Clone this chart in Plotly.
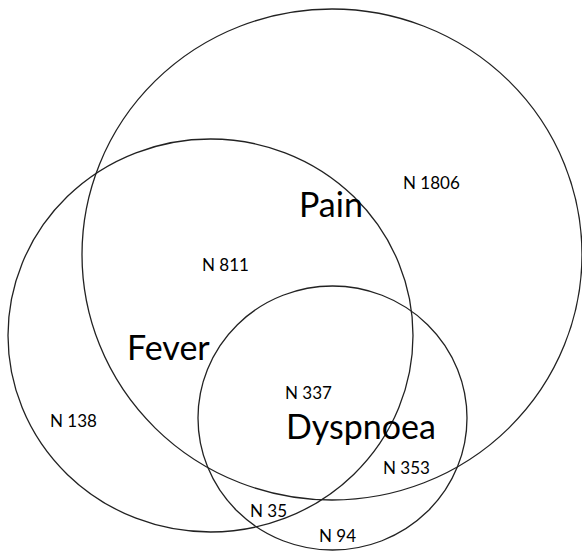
import plotly.graph_objects as go

# Data
set_names = ["Pain", "Fever", "Dyspnoea"]
region_names = ["Pain only", "Pain & Fever", "All three", "Fever only",
                "Pain & Dyspnoea", "Fever & Dyspnoea", "Dyspnoea only"]
region_counts = [1806, 811, 337, 138, 353, 35, 94]

# Layout geometry (pixel-like coordinates, y downward)
circle_bounds = {  # x0, x1, y0, y1
    "Pain": (82, 582, 9, 500),
    "Fever": (8, 413, 139, 532),
    "Dyspnoea": (198, 467, 286, 550),
}
set_label_pos = {"Pain": (331, 203), "Fever": (168, 346), "Dyspnoea": (361, 425)}
region_label_pos = [(431, 182), (225, 264), (308, 392), (73, 420),
                    (406, 467), (268, 510), (337, 535)]

W, H = 582, 555
fig = go.Figure()
fig.add_trace(go.Scatter(x=[0, W], y=[0, H], mode="markers",
                         marker=dict(opacity=0), hoverinfo="skip", showlegend=False))

for name in set_names:
    x0, x1, y0, y1 = circle_bounds[name]
    fig.add_shape(type="circle", xref="x", yref="y", x0=x0, x1=x1, y0=y0, y1=y1,
                  line=dict(color="#222222", width=1.3), fillcolor="rgba(0,0,0,0)")

for name in set_names:
    x, y = set_label_pos[name]
    fig.add_annotation(x=x, y=y, text=name, showarrow=False, xref="x", yref="y",
                       xanchor="center", yanchor="middle",
                       font=dict(family="Lato", size=34, color="#000000"))

for cnt, (x, y) in zip(region_counts, region_label_pos):
    fig.add_annotation(x=x, y=y, text=f"N {cnt}", showarrow=False, xref="x", yref="y",
                       xanchor="center", yanchor="middle",
                       font=dict(family="Lato", size=17, color="#000000"))

fig.update_layout(width=W, height=H, margin=dict(l=0, r=0, t=0, b=0),
                  paper_bgcolor="white", plot_bgcolor="white", showlegend=False,
                  xaxis=dict(range=[0, W], visible=False, fixedrange=True),
                  yaxis=dict(range=[H, 0], visible=False, fixedrange=True))
fig.write_html("out.html", config={"displayModeBar": False},
               post_script="document.body.style.margin='0';document.body.style.overflow='hidden';")
